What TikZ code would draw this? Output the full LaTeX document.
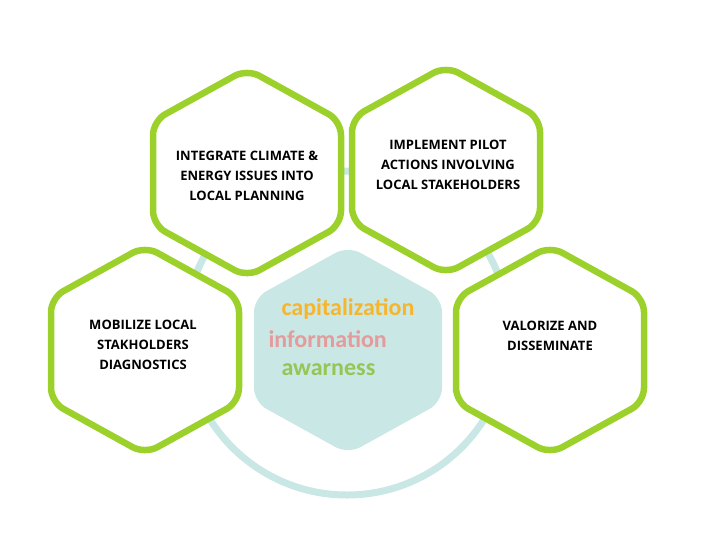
\documentclass[tikz,border=0pt]{standalone}
\usepackage{fontspec}
\setmainfont{Open Sans}
\newfontfamily\calib{Carlito}
\usepackage{tikz}
\usetikzlibrary{positioning}
\definecolor{hexgreen}{HTML}{9BD12A}
\definecolor{ringteal}{HTML}{C9E7E5}
\definecolor{capor}{HTML}{F7B52C}
\definecolor{infopink}{HTML}{E49B9B}
\definecolor{awgreen}{HTML}{95C653}
\newcommand{\hexpath}[2]{(#1,#2-104) -- (#1+94,#2-52) -- (#1+94,#2+52) -- (#1,#2+104) -- (#1-94,#2+52) -- (#1-94,#2-52) -- cycle}

\begin{document}
\begin{tikzpicture}[x=1pt,y=-1pt,
                    hexa/.style={line width=6.5pt, draw=hexgreen, fill=white, rounded corners=14pt},
                    midhex/.style={fill=ringteal, rounded corners=14pt},
                    label/.style={font=\bfseries\fontsize{13}{20}\selectfont, align=center, text=black},
                    word/.style={font=\calib\bfseries\fontsize{24}{26}\selectfont, anchor=west},
                   ]

\useasboundingbox (0,0) rectangle (715,558);

\draw[ringteal, line width=7pt] (347,333) circle (162);

\fill[midhex] \hexpath{348}{350};

\draw[hexa] \hexpath{247}{173};
\draw[hexa] \hexpath{446}{170};
\draw[hexa] \hexpath{145}{350};
\draw[hexa] \hexpath{550}{350};

\node[label] (plan) at (247,176) {INTEGRATE CLIMATE \&\\ENERGY ISSUES INTO\\LOCAL PLANNING};
\node[label] (pilot) at (448,165) {IMPLEMENT PILOT\\ACTIONS INVOLVING\\LOCAL STAKEHOLDERS};
\node[label] (mobil) at (143,345) {MOBILIZE LOCAL\\STAKHOLDERS\\DIAGNOSTICS};
\node[label] (valor) at (550,336) {VALORIZE AND\\DISSEMINATE};

\node[word, text=capor] (cap) at (278,309) {capitalization};
\node[word, text=infopink] (info) at (265,339) {information};
\node[word, text=awgreen] (aw) at (278,370) {awarness};

\end{tikzpicture}
\end{document}
